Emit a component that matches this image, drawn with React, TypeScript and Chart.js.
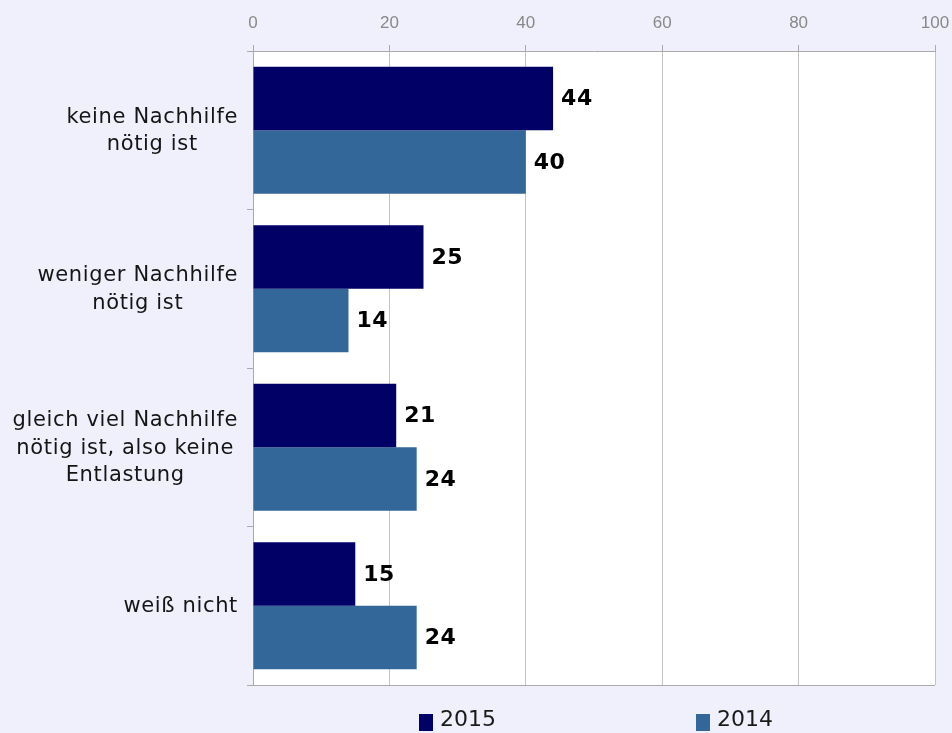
import React, { useEffect, useRef } from "react";
import { Chart, registerables } from "chart.js";

Chart.register(...registerables);

const categories: string[][] = [
  ["keine Nachhilfe", "nötig ist"],
  ["weniger Nachhilfe", "nötig ist"],
  ["gleich viel Nachhilfe", "nötig ist, also keine", "Entlastung"],
  ["weiß nicht"],
];
const seriesLabels = ["2015", "2014"];
const values2015 = [44, 25, 21, 15];
const values2014 = [40, 14, 24, 24];
const colors = ["#000066", "#336699"];
const xTicksMin = 0;
const xTicksMax = 100;
const xTicksStep = 20;

const BG = "#f0f0fc";
const LABEL_FONT = "DejaVu Sans, Verdana, sans-serif";

const decorPlugin = {
  id: "decor",
  beforeDraw(chart: any) {
    const { ctx, chartArea, width, height } = chart;
    ctx.save();
    ctx.fillStyle = BG;
    ctx.fillRect(0, 0, width, height);
    ctx.fillStyle = "#ffffff";
    ctx.fillRect(chartArea.left, chartArea.top, chartArea.right - chartArea.left, chartArea.bottom - chartArea.top);
    ctx.restore();
  },
  afterDraw(chart: any) {
    const { ctx, chartArea } = chart;
    const yScale = chart.scales.y;
    ctx.save();
    // bottom border line
    ctx.strokeStyle = "#aaaaaa";
    ctx.lineWidth = 1;
    ctx.beginPath();
    ctx.moveTo(chartArea.left - 6, Math.round(chartArea.bottom) + 0.5);
    ctx.lineTo(chartArea.right, Math.round(chartArea.bottom) + 0.5);
    ctx.stroke();

    // category labels: block right-aligned, lines centered in block
    ctx.font = `21px ${LABEL_FONT}`;
    (ctx as any).letterSpacing = "0.65px";
    ctx.fillStyle = "#151515";
    ctx.textAlign = "center";
    ctx.textBaseline = "middle";
    const lineH = 27.5;
    const rightEdge = chartArea.left - 15;
    categories.forEach((lines, i) => {
      const cy = yScale.getPixelForValue(i);
      const blockW = Math.max(...lines.map((l) => ctx.measureText(l).width));
      const cx = rightEdge - blockW / 2;
      lines.forEach((l, j) => {
        ctx.fillText(l, cx, cy + 1 + (j - (lines.length - 1) / 2) * lineH);
      });
    });
    (ctx as any).letterSpacing = "0px";

    // data labels
    ctx.font = `bold 22px ${LABEL_FONT}`;
    (ctx as any).letterSpacing = "0.5px";
    ctx.fillStyle = "#000000";
    ctx.textAlign = "left";
    chart.data.datasets.forEach((ds: any, di: number) => {
      const meta = chart.getDatasetMeta(di);
      meta.data.forEach((bar: any, i: number) => {
        ctx.fillText(String(ds.data[i]), bar.x + 8, bar.y + 1);
      });
    });
    (ctx as any).letterSpacing = "0px";

    // legend
    ctx.font = `22px ${LABEL_FONT}`;
    const boxW = 14;
    const boxH = 17;
    const gapText = 7;
    const gapItems = 200;
    const items = chart.data.datasets.map((ds: any) => ({
      label: ds.label,
      color: ds.backgroundColor,
      w: boxW + gapText + ctx.measureText(ds.label).width,
    }));
    const total = items.reduce((s: number, it: any) => s + it.w, 0) + gapItems * (items.length - 1);
    let x = (chartArea.left + chartArea.right) / 2 - total / 2 + 2;
    const ly = 720;
    items.forEach((it: any) => {
      ctx.fillStyle = it.color;
      ctx.fillRect(x, ly - 6, boxW, boxH);
      ctx.fillStyle = "#1a1a1a";
      ctx.fillText(it.label, x + boxW + gapText, ly);
      x += it.w + gapItems;
    });
    ctx.restore();
  },
};

export default function App() {
  const canvasRef = useRef<HTMLCanvasElement | null>(null);

  useEffect(() => {
    document.body.style.margin = "0";
    document.body.style.background = BG;
    const canvas = canvasRef.current;
    if (!canvas) return;
    const chart = new Chart(canvas, {
      type: "bar",
      data: {
        labels: categories.map((c) => c.join(" ")),
        datasets: [
          {
            label: seriesLabels[0],
            data: values2015,
            backgroundColor: colors[0],
            categoryPercentage: 0.8,
            barPercentage: 1.0,
          },
          {
            label: seriesLabels[1],
            data: values2014,
            backgroundColor: colors[1],
            categoryPercentage: 0.8,
            barPercentage: 1.0,
          },
        ],
      },
      options: {
        indexAxis: "y",
        animation: false,
        responsive: true,
        maintainAspectRatio: false,
        layout: { padding: { left: 0, right: 0, top: 0, bottom: 48 } },
        plugins: {
          legend: { display: false },
          tooltip: { enabled: false },
        },
        scales: {
          x: {
            position: "top",
            min: xTicksMin,
            max: xTicksMax,
            ticks: {
              stepSize: xTicksStep,
              color: "#888888",
              font: { family: "Liberation Sans, Arial, sans-serif", size: 17 },
              padding: 11,
            },
            grid: { color: "#c4c4c4", tickLength: 6, tickColor: "#aaaaaa" },
            border: { color: "#aaaaaa" },
            afterFit: (scale: any) => {
              scale.height = 51;
              scale.paddingRight = 17;
            },
          },
          y: {
            ticks: { display: false },
            grid: {
              offset: true,
              drawOnChartArea: false,
              tickLength: 6,
              color: "#aaaaaa",
            },
            border: { color: "#aaaaaa" },
            afterFit: (scale: any) => {
              scale.width = 253;
            },
          },
        },
      },
      plugins: [decorPlugin],
    });
    return () => chart.destroy();
  }, []);

  return (
    <div style={{ position: "absolute", left: 0, top: 0, width: 952, height: 733, background: BG }}>
      <canvas ref={canvasRef} />
    </div>
  );
}
